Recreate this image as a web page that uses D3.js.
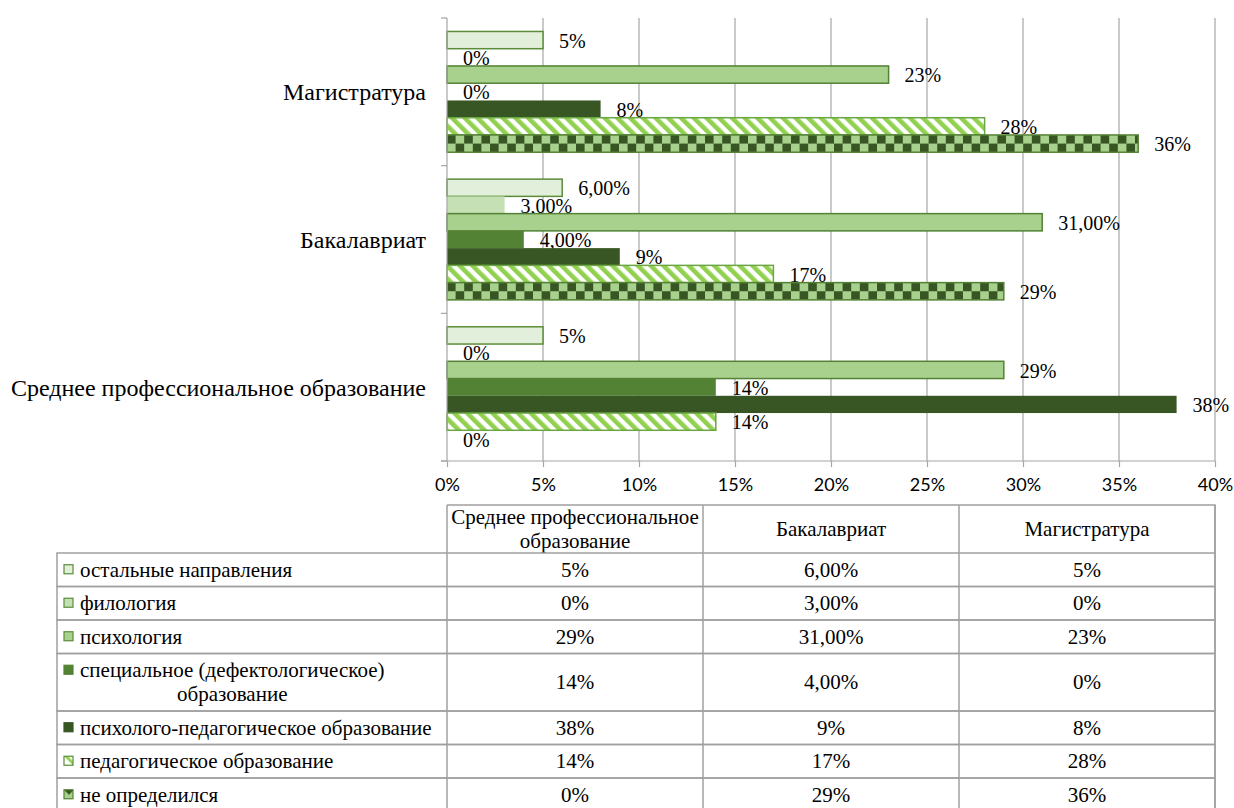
<!DOCTYPE html>
<html>
<head>
<meta charset="utf-8">
<script src="https://cdn.jsdelivr.net/npm/d3@7"></script>
<style>
	body { margin: 0; background: #fff; }
	svg { display: block; }
	.serif { font-family: 'Liberation Serif', 'Times New Roman', 'DejaVu Serif', serif; }
	.sans { font-family: Lato, 'Open Sans', sans-serif; }
</style>
</head>
<body>
<svg id="chart" width="1234" height="808"></svg>
<script>
/* global d3 */

// categories, in table order (chart shows them bottom-up)
const categories = ['Среднее профессиональное образование', 'Бакалавриат', 'Магистратура'];
const tableHeads = [['Среднее профессиональное', 'образование'], ['Бакалавриат'], ['Магистратура']];

const seriesNames = [
	'остальные направления',
	'филология',
	'психология',
	'специальное (дефектологическое) образование',
	'психолого-педагогическое образование',
	'педагогическое образование',
	'не определился'
];

// values in %, one per category (СПО, Бакалавриат, Магистратура)
const ostalnye = [5, 6, 5];
const filologiya = [0, 3, 0];
const psihologiya = [29, 31, 23];
const specialnoe = [14, 4, 0];
const psihPed = [38, 9, 8];
const pedagog = [14, 17, 28];
const neOpredelilsya = [0, 29, 36];

// labels as printed on the chart and in the table
const ostalnyeText = ['5%', '6,00%', '5%'];
const filologiyaText = ['0%', '3,00%', '0%'];
const psihologiyaText = ['29%', '31,00%', '23%'];
const specialnoeText = ['14%', '4,00%', '0%'];
const psihPedText = ['38%', '9%', '8%'];
const pedagogText = ['14%', '17%', '28%'];
const neOpredelilsyaText = ['0%', '29%', '36%'];

const xTicks = [0, 5, 10, 15, 20, 25, 30, 35, 40];

const values = [ostalnye, filologiya, psihologiya, specialnoe, psihPed, pedagog, neOpredelilsya];
const texts = [ostalnyeText, filologiyaText, psihologiyaText, specialnoeText, psihPedText, pedagogText, neOpredelilsyaText];

const gridColor = '#a6a6a6';

let svg = d3.select('#chart'),
	plot = {left: 447, right: 1215, top: 18, bottom: 461},
	x = d3.scaleLinear().domain([0, 40]).range([plot.left, plot.right]),
	y0 = d3.scaleBand().domain(categories.slice().reverse()).range([plot.top, plot.bottom]),
	y1 = d3.scaleBand().domain(seriesNames).range([0, y0.bandwidth()]).paddingOuter(0.78),
	defs = svg.append('defs');

svg.append('rect').attr('width', 1234).attr('height', 808).attr('fill', '#fff');

// patterns
let stripe = defs.append('pattern')
	.attr('id', 'stripe')
	.attr('patternUnits', 'userSpaceOnUse')
	.attr('width', 9).attr('height', 9)
	.attr('patternTransform', 'rotate(-45)');
stripe.append('rect').attr('width', 9).attr('height', 9).attr('fill', '#fff');
stripe.append('rect').attr('width', 4.6).attr('height', 9).attr('fill', '#92d050');

categories.forEach(function(c, i) {
	let p = defs.append('pattern')
		.attr('id', 'checker' + i)
		.attr('patternUnits', 'userSpaceOnUse')
		.attr('x', plot.left).attr('y', y0(c) + y1(seriesNames[6]))
		.attr('width', 17.2).attr('height', y1.bandwidth());
	p.append('rect').attr('width', 17.2).attr('height', y1.bandwidth()).attr('fill', '#a9d18e');
	p.append('rect').attr('width', 8.6).attr('height', y1.bandwidth() / 2).attr('fill', '#375623');
	p.append('rect').attr('x', 8.6).attr('y', y1.bandwidth() / 2).attr('width', 8.6).attr('height', y1.bandwidth() / 2).attr('fill', '#375623');
});

let legendChecker = defs.append('pattern')
	.attr('id', 'checkerKey')
	.attr('patternUnits', 'objectBoundingBox')
	.attr('width', 1).attr('height', 1);
legendChecker.append('rect').attr('width', 10).attr('height', 10).attr('fill', '#a9d18e');
legendChecker.append('path').attr('d', 'M0,0H10L5,5Z').attr('fill', '#375623');

let legendStripe = defs.append('pattern')
	.attr('id', 'stripeKey')
	.attr('patternUnits', 'objectBoundingBox')
	.attr('width', 1).attr('height', 1);
legendStripe.append('rect').attr('width', 10).attr('height', 10).attr('fill', '#fff');
legendStripe.append('path').attr('d', 'M0,0H4L10,6V10Z').attr('fill', '#92d050');

const fills = ['#e2efda', '#c5e0b4', '#a9d18e', '#548235', '#375623', 'url(#stripe)', null];
const strokes = ['#5b8c3a', 'none', '#538135', 'none', 'none', '#6aa642', '#548235'];
const keyFills = ['#e2efda', '#c5e0b4', '#a9d18e', '#548235', '#375623', 'url(#stripeKey)', 'url(#checkerKey)'];
const keyStrokes = ['#5b8c3a', '#5b8c3a', '#5b8c3a', '#548235', '#375623', '#5b8c3a', '#548235'];

function fillFor(s, ci) {
	return s === 6 ? 'url(#checker' + ci + ')' : fills[s];
}

// grid
svg.append('g')
	.selectAll('line')
	.data(xTicks.slice(1))
	.enter().append('line')
		.attr('x1', function(d) { return x(d); })
		.attr('x2', function(d) { return x(d); })
		.attr('y1', plot.top)
		.attr('y2', plot.bottom)
		.attr('stroke', gridColor)
		.attr('stroke-width', 1.2);

// bars
let rows = [];
categories.forEach(function(c, ci) {
	seriesNames.forEach(function(s, si) {
		rows.push({cat: c, ci: ci, si: si, value: values[si][ci], text: texts[si][ci]});
	});
});

let bar = svg.append('g').selectAll('g')
	.data(rows)
	.enter().append('g');

bar.filter(function(d) { return d.value > 0; })
	.append('rect')
		.attr('x', x(0))
		.attr('y', function(d) { return y0(d.cat) + y1(seriesNames[d.si]); })
		.attr('width', function(d) { return x(d.value) - x(0); })
		.attr('height', y1.bandwidth())
		.attr('fill', function(d) { return fillFor(d.si, d.ci); })
		.attr('stroke', function(d) { return strokes[d.si]; })
		.attr('stroke-width', 1.5);

bar.append('text')
	.attr('class', 'serif')
	.attr('x', function(d) { return x(d.value) + 16; })
	.attr('y', function(d) { return y0(d.cat) + y1(seriesNames[d.si]) + y1.bandwidth() / 2; })
	.attr('dy', '0.38em')
	.attr('font-size', 20)
	.attr('fill', '#000')
	.text(function(d) { return d.text; });

// x axis
let xAxis = svg.append('g')
	.attr('transform', 'translate(0,' + plot.bottom + ')')
	.call(d3.axisBottom(x).tickValues(xTicks).tickSize(6).tickPadding(11).tickFormat(function(d) { return d + '%'; }));
xAxis.attr('font-family', null).attr('font-size', null);
xAxis.select('.domain').attr('stroke', gridColor).attr('stroke-width', 1.2).attr('d', 'M' + (plot.left - 6) + ',0H' + plot.right);
xAxis.selectAll('.tick line').attr('stroke', gridColor).attr('stroke-width', 1.2);
xAxis.selectAll('.tick text').attr('class', 'sans').attr('font-size', 18).attr('fill', '#000');

// y axis with ticks between categories
let yAxis = svg.append('g');
yAxis.append('line')
	.attr('x1', plot.left).attr('x2', plot.left)
	.attr('y1', plot.top).attr('y2', plot.bottom)
	.attr('stroke', gridColor).attr('stroke-width', 1.2);
yAxis.selectAll('.sep')
	.data(y0.domain().map(function(c) { return y0(c); }).concat([plot.bottom]))
	.enter().append('line')
		.attr('x1', plot.left - 6).attr('x2', plot.left)
		.attr('y1', function(d) { return d; }).attr('y2', function(d) { return d; })
		.attr('stroke', gridColor).attr('stroke-width', 1.2);
yAxis.selectAll('.cat')
	.data(categories)
	.enter().append('text')
		.attr('class', 'serif')
		.attr('x', 426)
		.attr('y', function(d) { return y0(d) + y0.bandwidth() / 2; })
		.attr('dy', '0.35em')
		.attr('text-anchor', 'end')
		.attr('font-size', 24)
		.text(function(d) { return d; });

// data table
let tx = d3.scaleBand().domain(categories).range([plot.left, plot.right]),
	legendLeft = 57,
	headTop = 505,
	headH = 48,
	lineH = 24,
	table = svg.append('g').attr('class', 'serif').attr('font-size', 21),
	border = '#a0a0a0';

// header cells
table.append('path')
	.attr('d', 'M' + plot.left + ',' + headTop + 'H' + plot.right + 'V' + (headTop + headH))
	.attr('fill', 'none').attr('stroke', border).attr('stroke-width', 1.5);
categories.forEach(function(c, i) {
	let lines = tableHeads[i],
		cy = headTop + headH / 2;
	lines.forEach(function(l, li) {
		table.append('text')
			.attr('x', tx(c) + tx.bandwidth() / 2)
			.attr('y', cy + (li - (lines.length - 1) / 2) * lineH)
			.attr('dy', '0.35em')
			.attr('text-anchor', 'middle')
			.text(l);
	});
});

// wrap legend names
let probe = table.append('text');
function wrap(str, maxW) {
	let words = str.split(' '), out = [], line = '';
	words.forEach(function(w) {
		let test = line ? line + ' ' + w : w;
		probe.text(test);
		if (probe.node().getComputedTextLength() > maxW && line) {
			out.push(line);
			line = w;
		} else {
			line = test;
		}
	});
	out.push(line);
	return out;
}

let rowTop = headTop + headH;
seriesNames.forEach(function(s, si) {
	let lines = wrap(s, 366),
		h = lines.length * lineH + 9.5,
		cy = rowTop + h / 2,
		firstW;

	probe.text(lines[0]);
	firstW = probe.node().getComputedTextLength();

	table.append('rect')
		.attr('x', legendLeft).attr('y', rowTop)
		.attr('width', plot.right - legendLeft).attr('height', h)
		.attr('fill', 'none').attr('stroke', border).attr('stroke-width', 1.5);

	table.append('rect')
		.attr('x', legendLeft + 7).attr('y', cy - (lines.length - 1) * lineH / 2 - 5)
		.attr('width', 9).attr('height', 9)
		.attr('fill', keyFills[si]).attr('stroke', keyStrokes[si]).attr('stroke-width', 1.2);

	lines.forEach(function(l, li) {
		table.append('text')
			.attr('x', li === 0 ? legendLeft + 23 : legendLeft + 23 + firstW / 2)
			.attr('y', cy + (li - (lines.length - 1) / 2) * lineH)
			.attr('dy', '0.33em')
			.attr('text-anchor', li === 0 ? 'start' : 'middle')
			.text(l);
	});

	categories.forEach(function(c, ci) {
		table.append('text')
			.attr('x', tx(c) + tx.bandwidth() / 2)
			.attr('y', cy)
			.attr('dy', '0.33em')
			.attr('text-anchor', 'middle')
			.text(texts[si][ci]);
	});

	rowTop += h;
});
probe.remove();

// column lines
table.selectAll('.col')
	.data(categories.map(function(c) { return tx(c); }).concat([plot.right]))
	.enter().append('line')
		.attr('x1', function(d) { return d; }).attr('x2', function(d) { return d; })
		.attr('y1', headTop).attr('y2', rowTop)
		.attr('stroke', border).attr('stroke-width', 1.5);
</script>
</body>
</html>
